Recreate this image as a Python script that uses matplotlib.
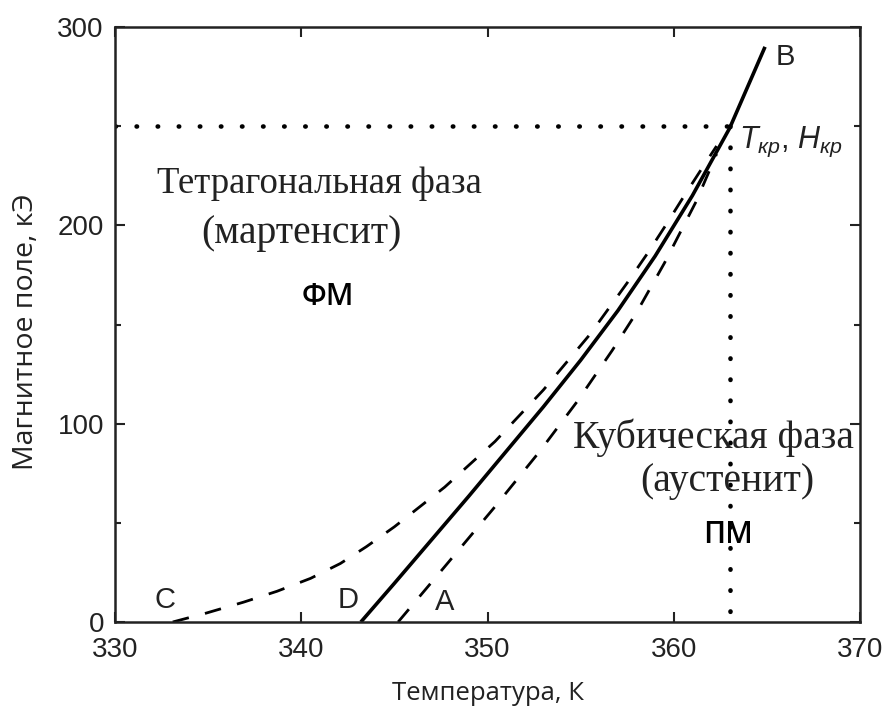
import matplotlib
matplotlib.use('Agg')
import matplotlib.pyplot as plt
from matplotlib.ticker import MultipleLocator

# phase boundary D-B (solid)
t_db = [343.2, 345, 347, 349, 351, 353, 355, 357, 359, 361, 363, 364.9]
h_db = [0, 19.5, 41.5, 63.5, 86, 108.5, 132, 157, 184.5, 215, 249, 290]

# heating branch A (dashed, right)
t_a = [345.2, 347.8, 350.3, 352.8, 354.8, 356.7, 358.0, 359.5, 361.2, 362.3]
h_a = [0, 29, 57, 86, 111, 137, 156, 181, 212, 236]

# cooling branch C (dashed, left)
t_c = [333.1, 334.9, 336.9, 338.7, 340.5, 342.1, 343.5, 345.0, 347.7, 350.4,
       353.0, 355.5, 357.5, 358.6, 359.6, 360.5, 361.6, 362.3]
h_c = [0, 4.5, 10, 15.5, 22, 29.5, 38, 48, 68, 91,
       117, 145, 171, 186, 200.5, 214, 230, 240]

# critical point
t_cr = 363
h_cr = 250

plt.rcParams['font.family'] = ['Liberation Sans', 'DejaVu Sans']
plt.rcParams['mathtext.fontset'] = 'custom'
plt.rcParams['mathtext.it'] = 'Liberation Sans:italic'
plt.rcParams['mathtext.rm'] = 'Liberation Sans'

fig = plt.figure(figsize=(8.88, 7.18), dpi=100)
ax = fig.add_axes([0.1295, 0.1337, 0.8390, 0.8287])

ax.plot(t_db, h_db, color='black', lw=2.6, solid_capstyle='butt')
ax.plot(t_a, h_a, color='black', lw=2.0, linestyle=(0, (6, 6)))
ax.plot(t_c, h_c, color='black', lw=2.0, linestyle=(0, (6, 6)))

dot = dict(color='black', lw=3.3, linestyle=(0, (0.1, 4.5)), dash_capstyle='round')
ax.plot([330, t_cr], [h_cr, h_cr], **dot)
ax.plot([t_cr, t_cr], [h_cr, 0], **dot)

ax.set_xlim(330, 370)
ax.set_ylim(0, 300)
ax.xaxis.set_major_locator(MultipleLocator(10))
ax.yaxis.set_major_locator(MultipleLocator(100))
ax.yaxis.set_minor_locator(MultipleLocator(50))
ax.tick_params(which='both', direction='in', top=True, right=True, width=1.5,
               labelsize=20, colors='#222222')
ax.tick_params(which='major', length=7, pad=8)
ax.tick_params(axis='x', which='major', pad=11)
ax.tick_params(which='minor', length=4)
for s in ax.spines.values():
    s.set_linewidth(1.8)
    s.set_color('#222222')

sans = ['Open Sans', 'DejaVu Sans']
ax.set_xlabel('Температура, К', fontsize=18.5, color='#222222', labelpad=13,
              family=sans)
ax.set_ylabel('Магнитное поле, кЭ', fontsize=20.5, color='#222222', family=sans)
ax.yaxis.set_label_coords(-0.101, 0.487)

serif = ['Liberation Serif', 'DejaVu Serif']
ax.text(341.0, 221, 'Тетрагональная фаза', family=serif, fontsize=26.5,
        ha='center', va='center', color='#222222')
ax.text(340.0, 196, '(мартенсит)', family=serif, fontsize=28.5,
        ha='center', va='center', color='#222222')
ax.text(341.4, 164, 'ФМ', fontsize=21.5, ha='center', va='center', color='black',
        family=sans, weight='semibold')
ax.text(362.15, 93, 'Кубическая фаза', family=serif, fontsize=28.5,
        ha='center', va='center', color='#222222')
ax.text(362.9, 71, '(аустенит)', family=serif, fontsize=28.5,
        ha='center', va='center', color='#222222')
ax.text(362.9, 44, 'ПМ', fontsize=21.5, ha='center', va='center', color='black',
        family=sans, weight='semibold')

for lbl, x, y in [('B', 366.0, 285), ('C', 332.7, 11), ('D', 342.5, 11), ('A', 347.7, 10)]:
    ax.text(x, y, lbl, fontsize=21, ha='center', va='center', color='#222222')

ax.text(363.5, 242, r'$T_{кр}$, $H_{кр}$', fontsize=22, ha='left', va='center',
        color='#222222')

fig.savefig('out.png', dpi=100)
